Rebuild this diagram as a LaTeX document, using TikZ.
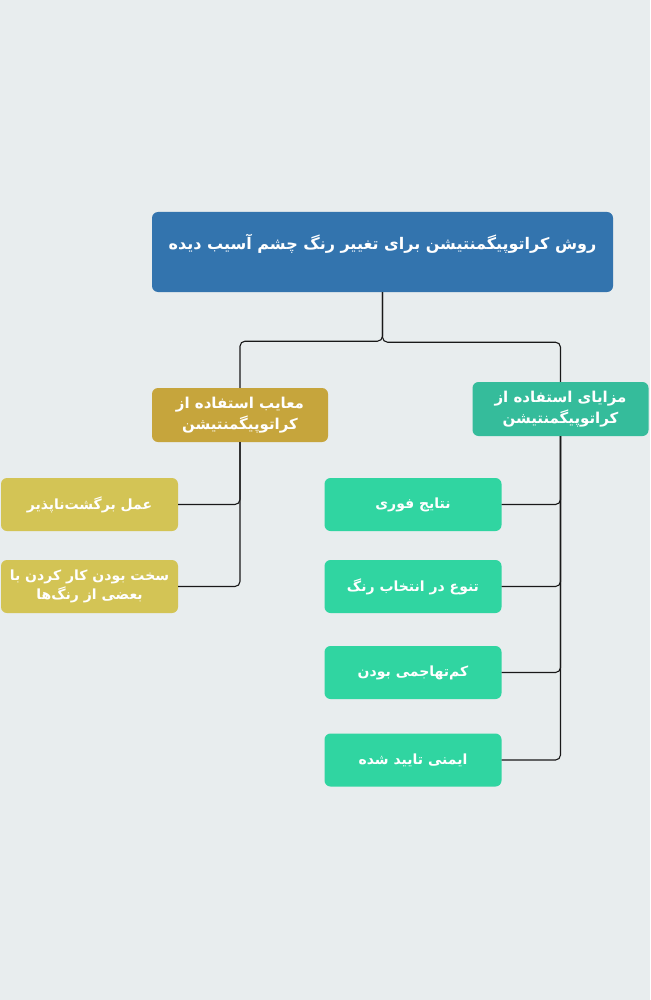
\documentclass[tikz,border=0pt]{standalone}
\usepackage{fontspec}
\newfontfamily\arabicfont[Script=Arabic]{DejaVu Sans}
\TeXXeTstate=1
\newcommand{\fa}[1]{{\arabicfont\bfseries\beginR #1\endR}}
\definecolor{bgcol}{HTML}{E8EDEE}
\definecolor{rootcol}{HTML}{3374AE}
\definecolor{conscol}{HTML}{C6A53C}
\definecolor{conleaf}{HTML}{D3C455}
\definecolor{proscol}{HTML}{35BC9B}
\definecolor{proleaf}{HTML}{30D5A1}
\begin{document}
\begin{tikzpicture}[x=1pt, y=-1pt,
    main/.style = {rounded corners=6pt, text=white, align=center, inner sep=0pt},
    head/.style = {main, minimum width=176pt, minimum height=54pt, font=\fontsize{15}{21}\selectfont},
    leaf/.style = {main, minimum width=177pt, minimum height=53pt, font=\fontsize{14}{19}\selectfont},
    link/.style = {draw=black!90, line width=1.1pt, rounded corners=5pt}]

    \fill[bgcol] (0,0) rectangle (650,1000);

    \node[main, fill=rootcol, minimum width=461pt, minimum height=80pt, text height=8pt, text depth=12pt, font=\fontsize{16}{20}\selectfont] (root) at (382.5, 252) {\fa{روش کراتوپیگمنتیشن برای تغییر رنگ چشم آسیب دیده}};

    \node[head, fill=conscol] (cons) at (240, 415) {\fa{معایب استفاده از}\\\fa{کراتوپیگمنتیشن}};
    \node[head, fill=proscol] (pros) at (560.5, 409) {\fa{مزایای استفاده از}\\\fa{کراتوپیگمنتیشن}};

    \node[leaf, fill=conleaf] (c1) at (89.5, 504.5) {\fa{عمل برگشت‌ناپذیر}};
    \node[leaf, fill=conleaf] (c2) at (89.5, 586.5) {\fa{سخت بودن کار کردن با}\\\fa{بعضی از رنگ‌ها}};

    \node[leaf, fill=proleaf] (p1) at (413, 504.5) {\fa{نتایج فوری}};
    \node[leaf, fill=proleaf] (p2) at (413, 586.5) {\fa{تنوع در انتخاب رنگ}};
    \node[leaf, fill=proleaf] (p3) at (413, 672.5) {\fa{کم‌تهاجمی بودن}};
    \node[leaf, fill=proleaf] (p4) at (413, 760) {\fa{ایمنی تایید شده}};

    \draw[link] (root.south) -- ++(0,49) -| (cons.north);
    \draw[link] (root.south) -- ++(0,50) -| (pros.north);

    \draw[link] (cons.south) |- (c1.east);
    \draw[link] (cons.south) |- (c2.east);

    \draw[link] (pros.south) |- (p1.east);
    \draw[link] (pros.south) |- (p2.east);
    \draw[link] (pros.south) |- (p3.east);
    \draw[link] (pros.south) |- (p4.east);

\end{tikzpicture}
\end{document}
